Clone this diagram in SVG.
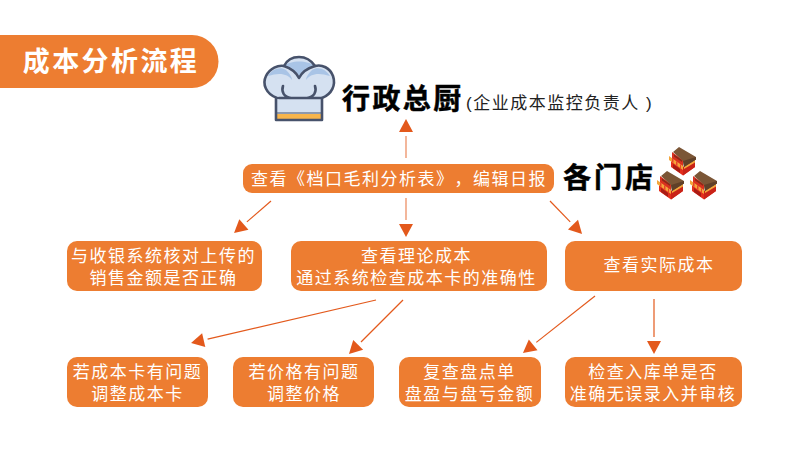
<svg xmlns="http://www.w3.org/2000/svg" xmlns:xlink="http://www.w3.org/1999/xlink" width="791" height="474" viewBox="0 0 791 474">
<style>
text{font-family:"Liberation Sans","Noto Sans CJK SC",sans-serif;text-spacing-trim:space-all}
.box{fill:#ed7d31}
.t{fill:#fff;font-size:17px;letter-spacing:1.5px;text-anchor:middle}
.h{fill:#000;stroke:#000;stroke-width:.5px;font-size:28px;font-weight:700;letter-spacing:2.400px}
.c{stroke:#e3591c;stroke-width:1.2;fill:none;marker-end:url(#a)}
.p{stroke-opacity:.55;stroke-width:1.600}
.o{stroke:#47526b;stroke-width:2.6;stroke-linejoin:round;stroke-linecap:round}
</style>
<defs>
<marker id="a" markerUnits="userSpaceOnUse" viewBox="0 -8 18 16" refX="0" refY="0" markerWidth="18" markerHeight="16" orient="auto"><path d="M4-7L17 0L4 7Z" fill="#e3591c"/></marker>
<g id="shop">
<path d="M2 12L14 20L26 12V20L14 28.500L2 20Z" fill="#e32d1c"/>
<path d="M14 20L26 12V20L14 28.500Z" fill="#c92318"/>
<path d="M4 17L11 22V26L4 21Z" fill="#a81c14"/>
<path d="M3 5L14 13V20L3 12Z" fill="#d8301f"/>
<path d="M5 7.500L13 13V15L5 9.500Z" fill="#8c2a18"/>
<path d="M0 9L14 19V23L0 13Z" fill="#f4a63c"/>
<path d="M3 11L4.500 12V16L3 15ZM7 14L8.500 15V19L7 18ZM11 17L12 17.700V21.500L11 20.800Z" fill="#e8442a"/>
<path d="M15 19L26 12.500V15.500L15 22Z" fill="#f4a63c"/>
<path d="M4 5L10 0L27 10L27 12.500L15 20L14 14Z" fill="#7b5636"/>
<path d="M14 14L27 10V12.500L15 20Z" fill="#5f4029"/>
</g>
</defs>
<g id="connectors">
<line class="c p" x1="406" y1="158" x2="406" y2="136"/>
<line class="c p" x1="406" y1="198" x2="406" y2="220"/>
<line class="c" x1="271" y1="201" x2="246.9" y2="221.900"/>
<line class="c" x1="550" y1="201" x2="570.200" y2="221.800"/>
<line class="c" x1="376" y1="300" x2="207.600" y2="339.200"/>
<line class="c" x1="403" y1="300" x2="361" y2="342"/>
<line class="c" x1="595" y1="296" x2="536.300" y2="342.400"/>
<line class="c" x1="654" y1="299" x2="654" y2="337"/>
</g>
<g id="title">
<path class="box" d="M0 35H192A26.500 26.500 0 0 1 192 88H0Z"/>
<text x="111" y="71" fill="#fff" font-size="27" font-weight="700" letter-spacing="2.400" text-anchor="middle">成本分析流程</text>
</g>
<g id="chef">
<path d="M277 98C266 94 262 84 266 76C270 68 278 65 284 66C288 58 294 57 299 57C306 57 311 60 315 66C322 64 330 68 333 76C336 85 332 94 322 98V120H276Z" fill="#d5e1f1"/>
<path d="M268 76C272 69 280 66 286 70C290 74 292 77 292 80C288 74 280 72 268 76Z" fill="#a9c4e6"/>
<path d="M330 76C326 69 318 66 312 70C308 74 306 77 306 80C310 74 318 72 330 76Z" fill="#a9c4e6"/>
<path d="M284 66C290 60 308 60 315 66C308 66 303 70 299 76C295 70 290 66 284 66Z" fill="#a9c4e6"/>
<rect x="277" y="114" width="45" height="5" fill="#f7b54c"/>
<path class="o" fill="none" d="M277 98C266 94 262 84 266 76C270 68 278 65 284 66C288 58 294 57 299 57C306 57 311 60 315 66C322 64 330 68 333 76C336 85 332 94 322 98V120H276V98Z"/>
<path class="o" fill="none" d="M279 98H322M284 66C290 68 296 72 299 78C302 72 308 68 315 66M283 86C281 92 284 97 291 98M315 86C317 92 314 97 307 98"/>
<path d="M277 113H322" stroke="#47526b" stroke-width="1.200"/>
</g>
<g id="chef-label">
<text class="h" x="342" y="109">行政总厨</text>
<text x="466" y="109" fill="#222" font-size="17" letter-spacing="1.500">(企业成本监控负责人 )</text>
</g>
<g id="review">
<rect class="box" x="243" y="164" width="311" height="29" rx="9"/>
<text class="t" x="399" y="185">查看《档口毛利分析表》，编辑日报</text>
</g>
<g id="stores">
<text class="h" x="563" y="188" style="letter-spacing:3px">各门店</text>
<use href="#shop" xlink:href="#shop" x="669" y="147"/>
<use href="#shop" xlink:href="#shop" x="657" y="171"/>
<use href="#shop" xlink:href="#shop" x="690" y="171"/>
</g>
<g id="n1">
<rect class="box" x="67" y="241" width="195" height="50" rx="10"/>
<text class="t" y="262"><tspan x="163.500">与收银系统核对上传的</tspan><tspan x="163.500" dy="22">销售金额是否正确</tspan></text>
</g>
<g id="n2">
<rect class="box" x="291" y="241" width="256" height="50" rx="10"/>
<text class="t" y="262"><tspan x="416.500">查看理论成本</tspan><tspan x="416.500" dy="22">通过系统检查成本卡的准确性</tspan></text>
</g>
<g id="n3">
<rect class="box" x="565" y="241" width="177" height="50" rx="10"/>
<text class="t" x="659" y="271">查看实际成本</text>
</g>
<g id="n4">
<rect class="box" x="67" y="357" width="141" height="50" rx="10"/>
<text class="t" y="378"><tspan x="137.500">若成本卡有问题</tspan><tspan x="137.500" dy="22">调整成本卡</tspan></text>
</g>
<g id="n5">
<rect class="box" x="233" y="357" width="141" height="50" rx="10"/>
<text class="t" y="378"><tspan x="304">若价格有问题</tspan><tspan x="304" dy="22">调整价格</tspan></text>
</g>
<g id="n6">
<rect class="box" x="399" y="357" width="142" height="50" rx="10"/>
<text class="t" y="378"><tspan x="469.500">复查盘点单</tspan><tspan x="469.500" dy="22">盘盈与盘亏金额</tspan></text>
</g>
<g id="n7">
<rect class="box" x="565" y="357" width="177" height="50" rx="10"/>
<text class="t" y="378"><tspan x="653">检查入库单是否</tspan><tspan x="653" dy="22">准确无误录入并审核</tspan></text>
</g>
</svg>
